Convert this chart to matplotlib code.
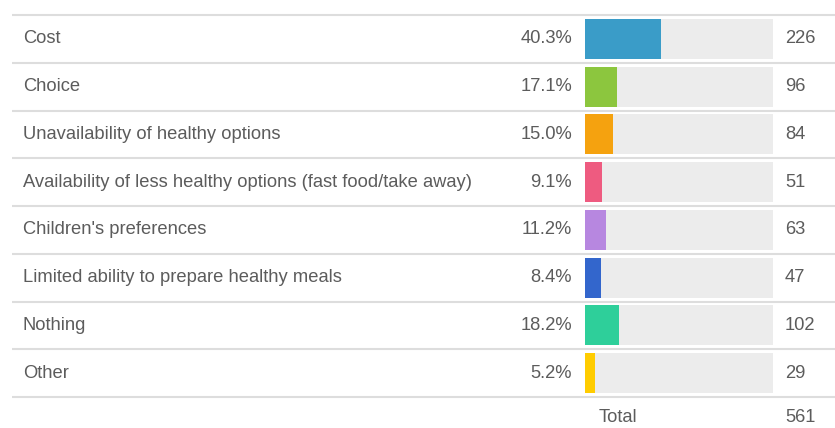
import matplotlib.pyplot as plt

plt.rcParams['font.family'] = ['Liberation Sans', 'DejaVu Sans']

answers = ['Cost', 'Choice', 'Unavailability of healthy options',
           'Availability of less healthy options (fast food/take away)',
           "Children's preferences", 'Limited ability to prepare healthy meals',
           'Nothing', 'Other']
percents = [40.3, 17.1, 15.0, 9.1, 11.2, 8.4, 18.2, 5.2]
counts = [226, 96, 84, 51, 63, 47, 102, 29]
total = 561
colors = ['#3a9cc8', '#8cc63e', '#f5a20f', '#ee5b80',
          '#b787e0', '#3366cc', '#2ecf9a', '#ffcc00']

W, H = 835, 428
fig = plt.figure(figsize=(W / 100, H / 100), dpi=100)
ax = fig.add_axes([0, 0, 1, 1])
ax.axis('off')

# pixel layout: bar track runs from x=585 to x=773 (0..100%), rows start at y=15
px_per_pct = 188 / 100
x0 = 585
row_h = 47.75
top = 15
ax.set_xlim(-x0 / px_per_pct, (W - x0) / px_per_pct)
ax.set_ylim((H - top) / row_h, -top / row_h)

def px(x):
    return (x - x0) / px_per_pct

n = len(answers)
rows = [i + 0.5 for i in range(n)]
bh = 40 / row_h
txt = '#5c5c5c'
fs = 13.2

ax.barh(rows, [100] * n, height=bh, left=0, color='#ececec', zorder=1)
ax.barh(rows, percents, height=bh, left=0, color=colors, zorder=2)

for i in range(n + 1):
    ax.plot([px(12), px(W)], [i, i], color='#dddddd', lw=1.5, zorder=0,
            solid_capstyle='butt')

for r, name, p, c in zip(rows, answers, percents, counts):
    ax.text(px(23), r, name, ha='left', va='center', fontsize=fs, color=txt)
    ax.text(px(572), r, f'{p:.1f}%', ha='right', va='center', fontsize=fs, color=txt)
    ax.text(px(785), r, str(c), ha='left', va='center', fontsize=fs, color=txt)

ty = n + (418 - top - n * row_h) / row_h
ax.text(px(618), ty, 'Total', ha='center', va='center', fontsize=fs, color=txt)
ax.text(px(785), ty, str(total), ha='left', va='center', fontsize=fs, color=txt)

fig.savefig('out.png', dpi=100)
